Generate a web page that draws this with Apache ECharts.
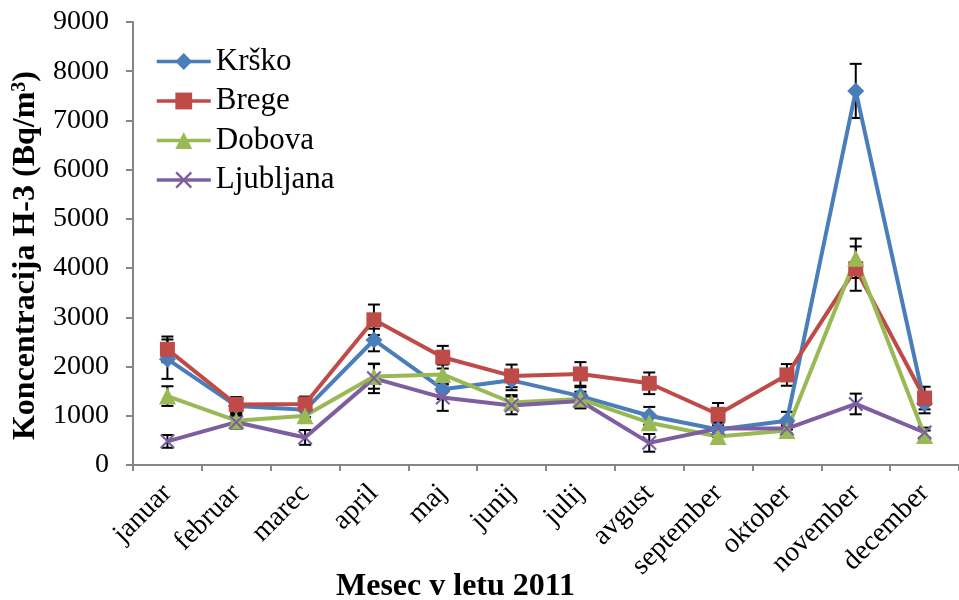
<!DOCTYPE html>
<html>
<head>
<meta charset="utf-8">
<script src="https://cdn.jsdelivr.net/npm/echarts@6/dist/echarts.min.js"></script>
<style>
  html, body { margin: 0; padding: 0; background: #fff; }
  #chart { width: 959px; height: 600px; }
</style>
</head>
<body>
<div id="chart"></div>
<script>
// mesci
var months = ['januar', 'februar', 'marec', 'april', 'maj', 'junij', 'julij', 'avgust', 'september', 'oktober', 'november', 'december'];

// povprecne koncentracije H-3 (Bq/m3)
var krsko     = [2150, 1200, 1120, 2540, 1540, 1720, 1400, 1000, 720, 900, 7600, 1250];
var brege     = [2350, 1230, 1240, 2950, 2190, 1810, 1850, 1660, 1030, 1830, 3990, 1360];
var dobova    = [1400, 900, 1000, 1800, 1840, 1270, 1340, 860, 580, 700, 4200, 600];
var ljubljana = [480, 870, 560, 1760, 1370, 1210, 1300, 450, 740, 740, 1240, 660];

// negotovosti (+/-)
var errKrsko     = [400, 150, 150, 230, 200, 200, 180, 180, 150, 180, 550, 200];
var errBrege     = [260, 150, 150, 310, 230, 230, 240, 220, 230, 220, 450, 230];
var errDobova    = [200, 130, 120, 250, 200, 150, 150, 130, 100, 100, 400, 100];
var errLjubljana = [130, 130, 150, 300, 270, 180, 150, 180, 100, 100, 210, 100];

var yTicks = [0, 1000, 2000, 3000, 4000, 5000, 6000, 7000, 8000, 9000];

var names  = ['Krško', 'Brege', 'Dobova', 'Ljubljana'];
var colors = ['#4a7ebb', '#be4b48', '#98b954', '#7d5fa0'];
var symbols = [
    'diamond',
    'rect',
    'triangle',
    'path://M0,1L1,0L5,4L9,0L10,1L6,5L10,9L9,10L5,6L1,10L0,9L4,5Z'
];
var symSizes = [17, 15, 17, 15];
var values = [krsko, brege, dobova, ljubljana];
var errors = [errKrsko, errBrege, errDobova, errLjubljana];

var myChart = echarts.init(document.getElementById('chart'));

// error bar renderer
function renderErr(params, api) {
    var i = api.value(0), v = api.value(1), e = api.value(2);
    var top = api.coord([i, v + e]);
    var bot = api.coord([i, v - e]);
    var cap = 6;
    var st = { stroke: '#000', lineWidth: 2 };
    return {
        type: 'group',
        children: [
            { type: 'line', shape: { x1: top[0], y1: top[1], x2: bot[0], y2: bot[1] }, style: st },
            { type: 'line', shape: { x1: top[0] - cap, y1: top[1], x2: top[0] + cap, y2: top[1] }, style: st },
            { type: 'line', shape: { x1: bot[0] - cap, y1: bot[1], x2: bot[0] + cap, y2: bot[1] }, style: st }
        ]
    };
}

var series = [];
for (var k = 0; k < names.length; k++) {
    series.push({
        name: names[k] + '_err',
        type: 'custom',
        renderItem: renderErr,
        data: values[k].map(function (v, i) { return [i, v, errors[k][i]]; }),
        z: 1,
        silent: true
    });
}
for (var k = 0; k < names.length; k++) {
    series.push({
        name: names[k],
        type: 'line',
        data: values[k],
        symbol: symbols[k],
        symbolSize: symSizes[k],
        lineStyle: { width: 4, color: colors[k] },
        itemStyle: { color: colors[k] },
        z: 3
    });
}

var option = {
    animation: false,
    backgroundColor: '#fff',
    title: {
        text: 'Mesec v letu 2011',
        left: 336,
        top: 571,
        padding: 0,
        textStyle: { fontFamily: 'Times New Roman', fontSize: 32, fontWeight: 'bold', color: '#000' }
    },
    grid: { left: 133, top: 22, width: 836, height: 443, containLabel: false },
    legend: {
        data: names,
        orient: 'vertical',
        left: 150,
        top: 41,
        itemWidth: 54,
        itemHeight: 21,
        itemGap: 8.5,
        lineStyle: { width: 3.5 },
        textStyle: { fontFamily: 'Times New Roman', fontSize: 31, color: '#000' }
    },
    xAxis: {
        type: 'category',
        data: months,
        boundaryGap: true,
        axisLine: { lineStyle: { color: '#868686', width: 2 } },
        axisTick: { show: true, length: 6, lineStyle: { color: '#868686', width: 2 } },
        axisLabel: {
            rotate: 45,
            margin: 24,
            fontFamily: 'Times New Roman',
            fontSize: 28,
            color: '#000'
        },
        splitLine: { show: false }
    },
    yAxis: {
        type: 'value',
        min: yTicks[0],
        max: yTicks[yTicks.length - 1],
        interval: 1000,
        name: 'Koncentracija H-3 (Bq/m{sup|3})',
        nameLocation: 'middle',
        nameRotate: 90,
        nameGap: 90,
        nameTextStyle: {
            fontFamily: 'Times New Roman',
            fontSize: 32,
            fontWeight: 'bold',
            color: '#000',
            padding: [0, 24, 0, 0],
            rich: {
                sup: {
                    fontFamily: 'Times New Roman',
                    fontSize: 20,
                    fontWeight: 'bold',
                    color: '#000',
                    verticalAlign: 'top',
                    padding: [0, 0, 13, 0]
                }
            }
        },
        axisLine: { show: true, lineStyle: { color: '#868686', width: 2 } },
        axisTick: { show: true, length: 7, lineStyle: { color: '#868686', width: 2 } },
        axisLabel: {
            margin: 24,
            fontFamily: 'Times New Roman',
            fontSize: 28,
            color: '#000',
            formatter: function (v) { return String(v); }
        },
        splitLine: { show: false }
    },
    series: series
};

myChart.setOption(option);
</script>
</body>
</html>
